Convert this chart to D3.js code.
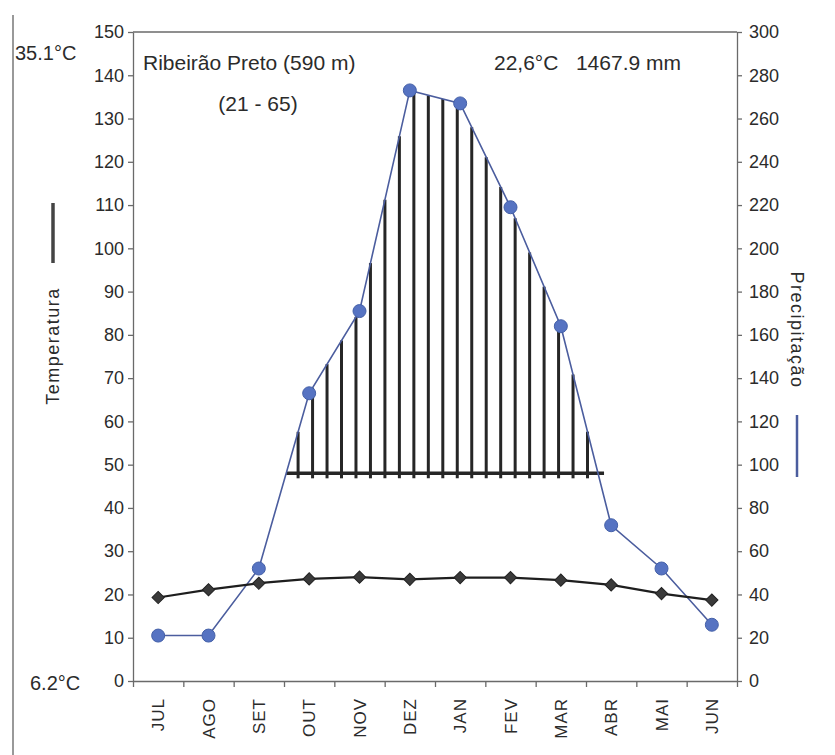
<!DOCTYPE html>
<html>
<head>
<meta charset="utf-8">
<script src="https://cdn.jsdelivr.net/npm/d3@7"></script>
<style>
  body { margin: 0; background: #fff; }
  text { font-family: "Liberation Sans", Arial, sans-serif; fill: #2b2b2b; }
  .axis path, .axis line { stroke: #6a6a6a; stroke-width: 1.3; }
</style>
</head>
<body>
<script>
//Width and height
var w = 835;
var h = 755;

//Chart data
var months = ["JUL","AGO","SET","OUT","NOV","DEZ","JAN","FEV","MAR","ABR","MAI","JUN"];
var temperature = [19.3, 21.1, 22.6, 23.6, 24.0, 23.5, 23.9, 23.9, 23.3, 22.2, 20.2, 18.7];
var precipitation = [21, 21, 52, 133, 171, 273, 267, 219, 164, 72, 52, 26];
var tempTicks = [0,10,20,30,40,50,60,70,80,90,100,110,120,130,140,150];
var precipTicks = [0,20,40,60,80,100,120,140,160,180,200,220,240,260,280,300];
var hatchBase = 96;      //level (mm) where the humid hatching starts
var hatchStep = 0.2875;  //spacing of hatch lines, in months

//Plot box
var plotLeft = 133, plotRight = 737, plotTop = 32, plotBottom = 681;

//Scales
var x = d3.scaleBand().domain(months).range([plotLeft, plotRight]);
var xi = d3.scaleLinear().domain([0, 11]).range([plotLeft + x.bandwidth()/2, plotRight - x.bandwidth()/2]);
var yT = d3.scaleLinear().domain([0, 150]).range([plotBottom, plotTop]);
var yP = d3.scaleLinear().domain([0, 300]).range([plotBottom, plotTop]);

//Create SVG element
var svg = d3.select("body")
            .append("svg")
            .attr("width", w)
            .attr("height", h);

//Frame line on the left edge of the scan
svg.append("line")
   .attr("x1", 13).attr("x2", 13)
   .attr("y1", 15).attr("y2", h)
   .attr("stroke", "#777").attr("stroke-width", 1.5);

//Top border of the plot
svg.append("line")
   .attr("x1", plotLeft).attr("x2", plotRight)
   .attr("y1", plotTop).attr("y2", plotTop)
   .attr("stroke", "#6a6a6a").attr("stroke-width", 1.3);

//Left axis (temperature)
svg.append("g")
   .attr("class", "axis")
   .attr("transform", "translate(" + plotLeft + ",0)")
   .call(d3.axisLeft(yT).tickValues(tempTicks).tickSize(5).tickSizeOuter(0))
   .selectAll("text")
   .style("font-size", "18px")
   .attr("x", -9);

//Right axis (precipitation)
svg.append("g")
   .attr("class", "axis")
   .attr("transform", "translate(" + plotRight + ",0)")
   .call(d3.axisRight(yP).tickValues(precipTicks).tickSize(5).tickSizeOuter(0))
   .selectAll("text")
   .style("font-size", "18px")
   .attr("x", 12);

//Bottom axis: ticks on month boundaries, labels rotated
var xEdge = d3.scaleLinear().domain([0, 12]).range([plotLeft, plotRight]);
svg.append("g")
   .attr("class", "axis")
   .attr("transform", "translate(0," + plotBottom + ")")
   .call(d3.axisBottom(xEdge).tickValues(d3.range(13)).tickSize(6).tickSizeOuter(0).tickFormat(""));

var xAxis = svg.append("g")
   .attr("transform", "translate(0," + plotBottom + ")")
   .call(d3.axisBottom(x).tickSize(0).tickSizeOuter(0));
xAxis.select(".domain").remove();
xAxis.selectAll("text")
   .style("font-size", "17px")
   .style("letter-spacing", "1px")
   .style("text-anchor", "end")
   .attr("transform", "rotate(-90)")
   .attr("x", -17)
   .attr("y", 0)
   .attr("dy", ".36em");

//Humid period hatching: vertical lines from the base level up to the precipitation curve
var precipAt = function(t) {
    var i = Math.min(10, Math.floor(t));
    var f = t - i;
    return precipitation[i] + (precipitation[i+1] - precipitation[i]) * f;
};
var crossAt = function(i) {
    return i + (hatchBase - precipitation[i]) / (precipitation[i+1] - precipitation[i]);
};
var startT = crossAt(2), endT = crossAt(8);
var hatchT = d3.range(2.78, endT, hatchStep);

svg.selectAll("line.hatch")
   .data(hatchT)
   .enter()
   .append("line")
   .attr("class", "hatch")
   .attr("x1", function(d) { return xi(d); })
   .attr("x2", function(d) { return xi(d); })
   .attr("y1", yP(hatchBase) + 5)
   .attr("y2", function(d) { return yP(precipAt(d)); })
   .attr("stroke", "#262626")
   .attr("stroke-width", 3);

svg.append("line")
   .attr("x1", xi(startT)).attr("x2", xi(endT) + 6)
   .attr("y1", yP(hatchBase)).attr("y2", yP(hatchBase))
   .attr("stroke", "#262626")
   .attr("stroke-width", 3.5);

//Precipitation line and dots
var pLine = d3.line()
              .x(function(d, i) { return xi(i); })
              .y(function(d) { return yP(d); });

svg.append("path")
   .datum(precipitation)
   .attr("d", pLine)
   .attr("fill", "none")
   .attr("stroke", "#4b5d9e")
   .attr("stroke-width", 1.6);

svg.selectAll("circle.precip")
   .data(precipitation)
   .enter()
   .append("circle")
   .attr("class", "precip")
   .attr("cx", function(d, i) { return xi(i); })
   .attr("cy", function(d) { return yP(d); })
   .attr("r", 6.5)
   .attr("fill", "#5673c2")
   .attr("stroke", "#4460a8")
   .attr("stroke-width", 1);

//Temperature line and diamonds
var tLine = d3.line()
              .x(function(d, i) { return xi(i); })
              .y(function(d) { return yT(d); });

svg.append("path")
   .datum(temperature)
   .attr("d", tLine)
   .attr("fill", "none")
   .attr("stroke", "#1e1e1e")
   .attr("stroke-width", 2.2);

svg.selectAll("path.temp")
   .data(temperature)
   .enter()
   .append("path")
   .attr("class", "temp")
   .attr("d", d3.symbol().type(d3.symbolSquare).size(75))
   .attr("transform", function(d, i) { return "translate(" + xi(i) + "," + yT(d) + ") rotate(45)"; })
   .attr("fill", "#3a3a3a")
   .attr("stroke", "#222")
   .attr("stroke-width", 1);

//Annotations
svg.append("text").attr("x", 143).attr("y", 70).style("font-size", "21px")
   .text("Ribeirão Preto (590 m)");
svg.append("text").attr("x", 258).attr("y", 111).style("font-size", "21px")
   .attr("text-anchor", "middle").text("(21 - 65)");
svg.append("text").attr("x", 494).attr("y", 70).style("font-size", "21px")
   .attr("xml:space", "preserve").text("22,6°C   1467.9 mm");
svg.append("text").attr("x", 15).attr("y", 60).style("font-size", "20px")
   .text("35.1°C");
svg.append("text").attr("x", 30).attr("y", 690).style("font-size", "20px")
   .text("6.2°C");

//Axis legends
svg.append("line")
   .attr("x1", 53).attr("x2", 53).attr("y1", 203).attr("y2", 263)
   .attr("stroke", "#444").attr("stroke-width", 3.5);
svg.append("text")
   .attr("transform", "translate(59,346) rotate(-90)")
   .attr("text-anchor", "middle")
   .style("font-size", "18px")
   .style("letter-spacing", "1.5px")
   .text("Temperatura");

svg.append("line")
   .attr("x1", 797).attr("x2", 797).attr("y1", 415).attr("y2", 477)
   .attr("stroke", "#4b5d9e").attr("stroke-width", 2.5);
svg.append("text")
   .attr("transform", "translate(791,330) rotate(90)")
   .attr("text-anchor", "middle")
   .style("font-size", "18px")
   .style("letter-spacing", "1.5px")
   .text("Precipitação");
</script>
</body>
</html>
